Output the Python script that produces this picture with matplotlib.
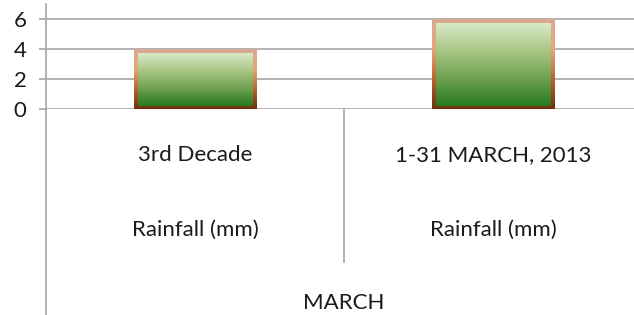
import numpy as np
import matplotlib
matplotlib.use("Agg")
import matplotlib.pyplot as plt
from matplotlib.colors import LinearSegmentedColormap

plt.rcParams["font.family"] = ["Lato", "DejaVu Sans"]

categories = ["3rd Decade", "1-31 MARCH, 2013"]
series_name = "Rainfall (mm)"
group_label = "MARCH"
values = [4, 6]
yticks = [0, 2, 4, 6]

W, H = 634, 315
fig = plt.figure(figsize=(W / 100, H / 100), dpi=100)
ax = fig.add_axes([46 / W, (H - 109) / H, (634 - 46) / W, 105 / H])

x = np.arange(len(categories))
bars = ax.bar(x, values, width=0.41, color="none", edgecolor="none", zorder=3)

ax.set_yticks(yticks)
ax.set_xticks([])
ax.grid(axis="y", color="#a6a6a6", linewidth=1.2, zorder=0)
ax.tick_params(axis="y", length=5, width=1.2, color="#a6a6a6", pad=9,
               labelsize=16, labelcolor="#1a1a1a")
for s in ["top", "right", "bottom"]:
    ax.spines[s].set_visible(False)
ax.spines["left"].set_color("#a6a6a6")
ax.spines["left"].set_linewidth(1.2)

# gradient border + gradient fill, like the Excel bars
border_cmap = LinearSegmentedColormap.from_list(
    "border", ["#d8aa92", "#e2a878", "#b8652e", "#6e3010"])
fill_cmap = LinearSegmentedColormap.from_list(
    "fill", ["#d8eac8", "#a9c684", "#6fa150", "#257a1f"])
grad = np.linspace(0, 1, 256).reshape(-1, 1)

bx = 4 / 298
by = 4 / 15
for b in bars:
    x0, y0 = b.get_x(), b.get_y()
    w, h = b.get_width(), b.get_height()
    ax.imshow(grad, cmap=border_cmap, aspect="auto", origin="upper",
              extent=(x0, x0 + w, y0, y0 + h), zorder=3)
    ax.imshow(grad, cmap=fill_cmap, aspect="auto", origin="upper",
              extent=(x0 + bx, x0 + w - bx, y0 + by * 0.8, y0 + h - by), zorder=4)
ax.set_xlim(-0.5, 1.473)
ax.set_ylim(0, 7)

# category axis below the plot
line_kw = dict(color="#a6a6a6", linewidth=1.2, clip_on=False)
ax.plot([-0.5, -0.5], [0, -(H - 109) / 15], **line_kw)
ax.plot([0.5, 0.5], [0, -(262 - 109) / 15], **line_kw)

txt_kw = dict(ha="center", va="center", fontsize=16, color="#1a1a1a", clip_on=False)
for xi, cat in zip(x, categories):
    ax.text(xi, -(155 - 109) / 15, cat, **txt_kw)
    ax.text(xi, -(230 - 109) / 15, series_name, **txt_kw)
ax.text(0.5, -(303 - 109) / 15, group_label, **txt_kw)

fig.savefig("out.png", dpi=100)
